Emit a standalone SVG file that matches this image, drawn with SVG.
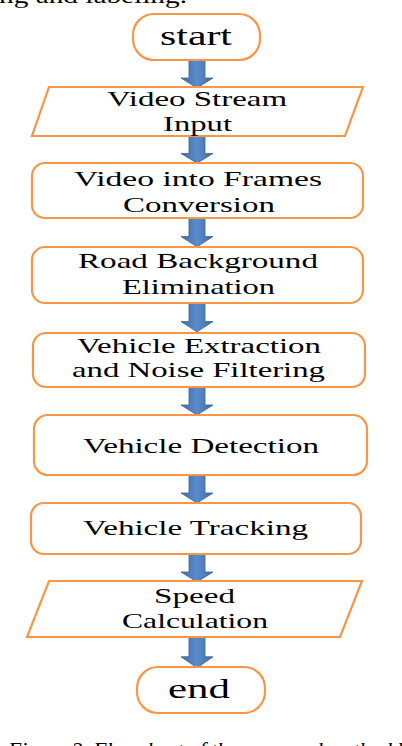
<svg xmlns="http://www.w3.org/2000/svg" width="402" height="746" viewBox="0 0 402 746">
<style>
.box{fill:#fff;stroke:#F79646;stroke-width:2.2}
.t{font-family:"Liberation Serif","Times New Roman",serif;font-size:21px;fill:#000}
.big{font-size:28px}
.arr{fill:url(#ag);stroke:#3A6496;stroke-width:0.8}
.cap{font-family:"Liberation Serif","Times New Roman",serif;font-size:22px;fill:#000}
</style>
<defs>
<linearGradient id="ag" x1="0" y1="0" x2="1" y2="0">
<stop offset="0" stop-color="#3E6DA6"/>
<stop offset="0.5" stop-color="#5B8CCB"/>
<stop offset="1" stop-color="#3E6DA6"/>
</linearGradient>
<path id="arrow" d="M-8,0 H8 V18 H16 L0,28 L-16,18 H-8 Z"/>
</defs>
<rect width="402" height="746" fill="#fff"/>
<text class="cap" x="-1" y="3" textLength="188" lengthAdjust="spacingAndGlyphs">ng and labeling.</text>

<g id="connectors">
<use href="#arrow" class="arr" transform="translate(197,60)"/>
<use href="#arrow" class="arr" transform="translate(197,136) scale(1,0.97)"/>
<use href="#arrow" class="arr" transform="translate(197,218) scale(1,1.03)"/>
<use href="#arrow" class="arr" transform="translate(197,303) scale(1,1.03)"/>
<use href="#arrow" class="arr" transform="translate(197,387)"/>
<use href="#arrow" class="arr" transform="translate(197,475)"/>
<use href="#arrow" class="arr" transform="translate(197,554)"/>
<use href="#arrow" class="arr" transform="translate(197,637) scale(1,1.1)"/>
</g>

<g id="start">
<rect class="box" x="133" y="14" width="127" height="46" rx="21"/>
<text class="t big" x="160" y="45" textLength="72" lengthAdjust="spacingAndGlyphs">start</text>
</g>

<g id="video-stream-input">
<polygon class="box" points="49,87 363,87 345,136 32,136"/>
<text class="t" x="107" y="106" textLength="180" lengthAdjust="spacingAndGlyphs">Video Stream</text>
<text class="t" x="163" y="131" textLength="69" lengthAdjust="spacingAndGlyphs">Input</text>
</g>

<g id="frames-conversion">
<rect class="box" x="32" y="163" width="331" height="55" rx="13"/>
<text class="t" x="74" y="186" textLength="248" lengthAdjust="spacingAndGlyphs">Video into Frames</text>
<text class="t" x="123" y="212" textLength="152" lengthAdjust="spacingAndGlyphs">Conversion</text>
</g>

<g id="background-elimination">
<rect class="box" x="32" y="247" width="331" height="56" rx="13"/>
<text class="t" x="78" y="268" textLength="240" lengthAdjust="spacingAndGlyphs">Road Background</text>
<text class="t" x="122" y="294" textLength="153" lengthAdjust="spacingAndGlyphs">Elimination</text>
</g>

<g id="extraction-filtering">
<rect class="box" x="33" y="333" width="332" height="54" rx="13"/>
<text class="t" x="77" y="353" textLength="244" lengthAdjust="spacingAndGlyphs">Vehicle Extraction</text>
<text class="t" x="72" y="377" textLength="253" lengthAdjust="spacingAndGlyphs">and Noise Filtering</text>
</g>

<g id="vehicle-detection">
<rect class="box" x="34" y="415" width="333" height="60" rx="14"/>
<text class="t" x="83" y="453" textLength="236" lengthAdjust="spacingAndGlyphs">Vehicle Detection</text>
</g>

<g id="vehicle-tracking">
<rect class="box" x="31" y="503" width="330" height="51" rx="13"/>
<text class="t" x="83" y="535" textLength="225" lengthAdjust="spacingAndGlyphs">Vehicle Tracking</text>
</g>

<g id="speed-calculation">
<polygon class="box" points="49,581 362,581 340,637 27,637"/>
<text class="t" x="154" y="603" textLength="81" lengthAdjust="spacingAndGlyphs">Speed</text>
<text class="t" x="122" y="628" textLength="146" lengthAdjust="spacingAndGlyphs">Calculation</text>
</g>

<g id="end">
<rect class="box" x="137" y="667" width="128" height="46" rx="21"/>
<text class="t big" x="168" y="698" textLength="62" lengthAdjust="spacingAndGlyphs">end</text>
</g>

<text class="cap" x="8" y="757" font-style="italic" textLength="400" lengthAdjust="spacingAndGlyphs">Figure 2. Flowchart of the proposed method b</text>
</svg>
